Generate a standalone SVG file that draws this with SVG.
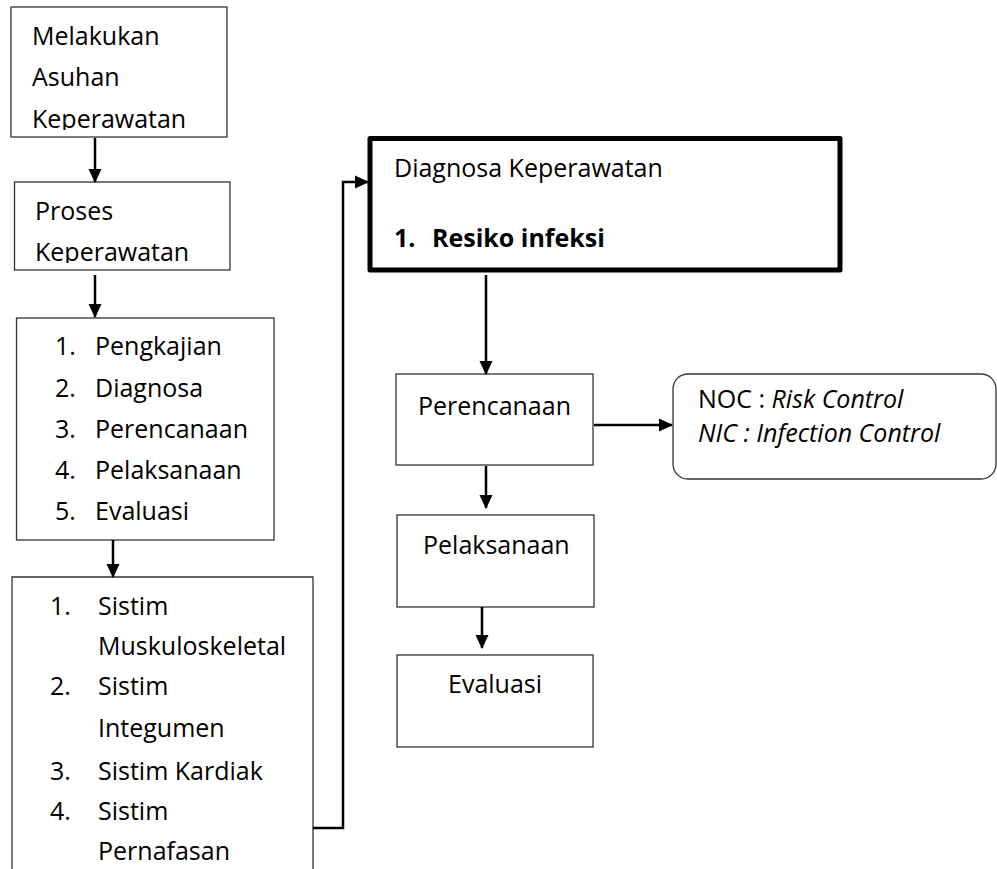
<svg xmlns="http://www.w3.org/2000/svg" width="997" height="869" viewBox="0 0 997 869">
<style>
text{font-family:"Open Sans","Liberation Sans",sans-serif;font-size:25px;fill:#000}
.box{fill:#fff;stroke:#333;stroke-width:1.3}
.thick{fill:#fff;stroke:#000;stroke-width:5;stroke-linejoin:round}
.conn{fill:none;stroke:#000;stroke-width:2.5}
.it{font-style:italic}
.b{font-weight:bold}
</style>
<defs>
<marker id="ah" markerWidth="14" markerHeight="14" refX="13" refY="7" orient="auto" markerUnits="userSpaceOnUse" viewBox="0 0 14 14">
<path d="M0,0.5 L14,7 L0,13.5 Z" fill="#000"/>
</marker>
<clipPath id="c1"><rect x="11" y="7" width="216" height="123"/></clipPath>
<clipPath id="c2"><rect x="14" y="182" width="216" height="81"/></clipPath>
</defs>
<rect width="997" height="869" fill="#fff"/>
<g id="n1">
<rect class="box" x="11" y="7" width="216" height="130"/>
<g clip-path="url(#c1)">
<text x="32" y="45">Melakukan</text>
<text x="32" y="86">Asuhan</text>
<text x="32" y="128">Keperawatan</text>
</g>
</g>
<g id="n2">
<rect class="box" x="14.5" y="182" width="215.5" height="88"/>
<g clip-path="url(#c2)">
<text x="35" y="220">Proses</text>
<text x="35" y="261">Keperawatan</text>
</g>
</g>
<g id="n3">
<rect class="box" x="16.5" y="318" width="257.5" height="222"/>
<text x="55" y="355">1.</text><text x="95" y="355">Pengkajian</text>
<text x="55" y="397">2.</text><text x="95" y="397">Diagnosa</text>
<text x="55" y="438">3.</text><text x="95" y="438">Perencanaan</text>
<text x="55" y="479">4.</text><text x="95" y="479">Pelaksanaan</text>
<text x="55" y="520">5.</text><text x="95" y="520">Evaluasi</text>
</g>
<g id="n4">
<path class="box" d="M12,875 L12,577 L313,577 L313,875"/>
<text x="50" y="615">1.</text><text x="98" y="615">Sistim</text>
<text x="98" y="655">Muskuloskeletal</text>
<text x="50" y="695">2.</text><text x="98" y="695">Sistim</text>
<text x="98" y="737">Integumen</text>
<text x="50" y="780">3.</text><text x="98" y="780">Sistim Kardiak</text>
<text x="50" y="820">4.</text><text x="98" y="820">Sistim</text>
<text x="98" y="860">Pernafasan</text>
</g>
<g id="n5">
<rect class="thick" x="370" y="138.5" width="470" height="131.5"/>
<text x="394" y="177">Diagnosa Keperawatan</text>
<text class="b" x="394" y="247">1.</text><text class="b" x="432" y="247">Resiko infeksi</text>
</g>
<g id="n6">
<rect class="box" x="396" y="374" width="197" height="91"/>
<text x="418" y="415">Perencanaan</text>
</g>
<g id="n7">
<rect class="box" x="673" y="374" width="323" height="105" rx="15" ry="15"/>
<text x="698" y="408">NOC : <tspan class="it">Risk Control</tspan></text>
<text class="it" x="698" y="442">NIC : Infection Control</text>
</g>
<g id="n8">
<rect class="box" x="397" y="515" width="197" height="92"/>
<text x="423" y="554">Pelaksanaan</text>
</g>
<g id="n9">
<rect class="box" x="397" y="655" width="196" height="92"/>
<text x="448" y="693">Evaluasi</text>
</g>
<g id="connectors">
<line class="conn" x1="95" y1="138" x2="95" y2="182" marker-end="url(#ah)"/>
<line class="conn" x1="95" y1="275" x2="95" y2="317" marker-end="url(#ah)"/>
<line class="conn" x1="113" y1="540" x2="113" y2="577" marker-end="url(#ah)"/>
<path class="conn" d="M313,828 L343,828 L343,182 L368,182" marker-end="url(#ah)"/>
<line class="conn" x1="486" y1="275" x2="486" y2="374" marker-end="url(#ah)"/>
<line class="conn" x1="594" y1="425" x2="672" y2="425" marker-end="url(#ah)"/>
<line class="conn" x1="486" y1="466" x2="486" y2="508" marker-end="url(#ah)"/>
<line class="conn" x1="482" y1="607" x2="482" y2="648" marker-end="url(#ah)"/>
</g>
</svg>
